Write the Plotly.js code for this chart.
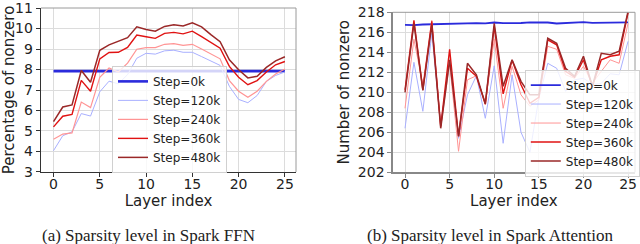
<!DOCTYPE html>
<html>
<head>
<meta charset="utf-8">
<script src="https://cdn.plot.ly/plotly-3.0.1.min.js"></script>
<style>html,body{margin:0;padding:0;background:#fff}#chart{width:640px;height:244px}</style>
</head>
<body>
<div id="chart"></div>
<script>
const layers = [0,1,2,3,4,5,6,7,8,9,10,11,12,13,14,15,16,17,18,19,20,21,22,23,24,25];
const stepNames = ["Step=0k","Step=120k","Step=240k","Step=360k","Step=480k"];
const ffnTicks = [3,4,5,6,7,8,9,10,11];
const attTicks = [202,204,206,208,210,212,214,216,218];
const layerTicks = [0,5,10,15,20,25];

const ffn0k   = [7.92,7.92,7.92,7.92,7.92,7.92,7.92,7.92,7.92,7.92,7.92,7.92,7.92,7.92,7.92,7.92,7.92,7.92,7.92,7.92,7.92,7.92,7.92,7.92,7.92,7.92];
const ffn120k = [4.04,4.77,4.96,5.85,5.73,6.91,7.43,7.30,7.75,8.55,8.79,8.75,8.91,8.94,8.84,8.84,8.63,8.42,8.20,7.18,6.54,6.38,6.73,7.42,7.71,7.88];
const ffn240k = [4.60,4.85,4.91,6.41,6.14,7.62,8.07,7.88,8.31,8.99,9.07,9.07,9.23,9.26,9.18,9.23,9.00,8.76,8.52,7.46,6.94,6.65,6.94,7.42,7.78,8.02];
const ffn360k = [5.20,5.72,5.81,7.47,6.94,8.52,8.83,8.84,9.08,9.68,9.60,9.52,9.76,9.81,9.74,9.87,9.60,9.33,9.04,8.15,7.62,7.26,7.46,7.88,8.23,8.39];
const ffn480k = [5.46,6.17,6.27,7.95,7.38,8.94,9.20,9.36,9.55,10.08,9.95,9.87,10.10,10.18,10.12,10.28,10.08,9.70,9.36,8.47,7.99,7.59,7.67,8.10,8.42,8.62];

const att0k   = [216.75,216.72,216.78,216.80,216.88,216.88,216.90,216.90,216.92,216.90,216.98,216.92,216.92,216.93,217.00,216.98,216.98,216.88,216.92,216.95,217.02,216.95,216.98,217.00,217.02,217.00];
const att120k = [206.4,213.0,208.1,215.9,206.8,213.1,205.4,209.75,211.65,207.4,212.65,204.9,211.75,206.0,204.0,209.4,212.9,212.4,210.1,211.25,211.4,210.8,210.9,211.85,211.75,215.1];
const att240k = [208.4,215.3,210.75,217.2,206.5,212.9,204.1,211.25,211.65,208.9,215.3,208.4,212.6,209.75,208.6,209.25,214.6,214.3,211.75,211.4,212.6,210.9,212.1,213.25,212.9,216.9];
const att360k = [210.25,217.2,210.25,217.1,206.6,214.3,205.6,212.4,211.6,208.8,216.6,209.85,213.2,210.75,208.9,209.5,215.25,214.75,212.1,211.5,213.25,210.6,213.25,213.6,213.75,217.95];
const att480k = [210.0,216.9,210.2,216.75,206.4,213.25,205.6,212.9,211.75,208.85,216.9,210.6,213.25,211.1,209.75,209.75,215.4,214.9,212.4,211.6,213.6,210.6,213.9,213.75,214.1,218.1];

const colors = ["#2b2bdc","#a9b0ff","#ff9494","#e01212","#9a2828"];
const widthsL = [2.6,1.0,1.2,1.4,1.5];
const widthsR = [1.8,1.0,1.0,1.4,1.5];

const ffnSeries = [ffn0k,ffn120k,ffn240k,ffn360k,ffn480k];
const attSeries = [att0k,att120k,att240k,att360k,att480k];

const traces = [];
ffnSeries.forEach((ys,i)=>traces.push({x:layers,y:ys,type:"scatter",mode:"lines",name:stepNames[i],
  line:{color:colors[i],width:widthsL[i]},xaxis:"x",yaxis:"y",legend:"legend"}));
attSeries.forEach((ys,i)=>traces.push({x:layers,y:ys,type:"scatter",mode:"lines",name:stepNames[i],
  line:{color:colors[i],width:widthsR[i]},xaxis:"x2",yaxis:"y2",legend:"legend2"}));

const tickFont = {family:"DejaVu Sans",size:14,color:"#222"};
const titleFont = {family:"DejaVu Sans",size:15,color:"#222"};
const gridC = "#dcdcdc";
function xax(domain, range, lc){
  return {domain:domain,range:range,tickvals:layerTicks,showgrid:true,gridcolor:gridC,gridwidth:1,
    zeroline:false,showline:true,linecolor:lc,linewidth:1.3,ticks:"outside",ticklen:4,tickcolor:lc,
    ticklabelstandoff:-5,ticklabeloverflow:"allow",tickfont:tickFont,title:{text:"Layer index",font:titleFont,standoff:0}};
}
function yax(domain, range, tv, lc, title, anchor){
  return {domain:domain,range:range,tickvals:tv,showgrid:true,gridcolor:gridC,gridwidth:1,
    zeroline:false,showline:true,linecolor:lc,linewidth:1.3,ticks:"outside",ticklen:4,tickcolor:lc,
    ticklabeloverflow:"allow",tickfont:tickFont,title:{text:title,font:titleFont,standoff:4},anchor:anchor};
}
const legendBase = {bgcolor:"rgba(255,255,255,0.8)",bordercolor:"#d0d0d0",borderwidth:1,
  font:{family:"DejaVu Sans",size:12,color:"#222"},xanchor:"left",yanchor:"top",tracegroupgap:0};

const layout = {
  width:640,height:244,margin:{l:0,r:0,t:0,b:0},paper_bgcolor:"#fff",plot_bgcolor:"#fff",showlegend:true,
  xaxis: xax([0.0641,0.4625],[-1.35,26.2],"#333"),
  yaxis: yax([0.2951,0.9672],[3,11.0001],ffnTicks,"#333","Percentage of nonzero","x"),
  xaxis2: Object.assign(xax([0.6136,0.9922],[-1.38,25.78],"#888"),{anchor:"y2"}),
  yaxis2: yax([0.2939,0.9496],[202,218.0001],attTicks,"#888","Number of nonzero","x2"),
  legend: Object.assign({},legendBase,{x:0.175,y:0.73}),
  legend2: Object.assign({},legendBase,{x:0.82,y:0.715}),
  shapes:[
    {type:"line",xref:"x domain",yref:"y domain",x0:0,x1:1,y0:1,y1:1,line:{color:"#9a9a9a",width:1}},
    {type:"line",xref:"x domain",yref:"y domain",x0:1,x1:1,y0:0,y1:1,line:{color:"#9a9a9a",width:1}},
    {type:"line",xref:"x2 domain",yref:"y2 domain",x0:0,x1:1,y0:1,y1:1,line:{color:"#9a9a9a",width:1}},
    {type:"line",xref:"x2 domain",yref:"y2 domain",x0:1,x1:1,y0:0,y1:1,line:{color:"#9a9a9a",width:1}}
  ],
  annotations:[
    {text:"(a) Sparsity level in Spark FFN",xref:"paper",yref:"paper",x:148/640,y:(244-235)/244,
     xanchor:"center",yanchor:"middle",showarrow:false,font:{family:"Liberation Serif",size:17,color:"#222"}},
    {text:"(b) Sparsity level in Spark Attention",xref:"paper",yref:"paper",x:490/640,y:(244-235)/244,
     xanchor:"center",yanchor:"middle",showarrow:false,font:{family:"Liberation Serif",size:17,color:"#222"}}
  ]
};
Plotly.newPlot("chart",traces,layout,{displayModeBar:false,staticPlot:true});
</script>
</body>
</html>
